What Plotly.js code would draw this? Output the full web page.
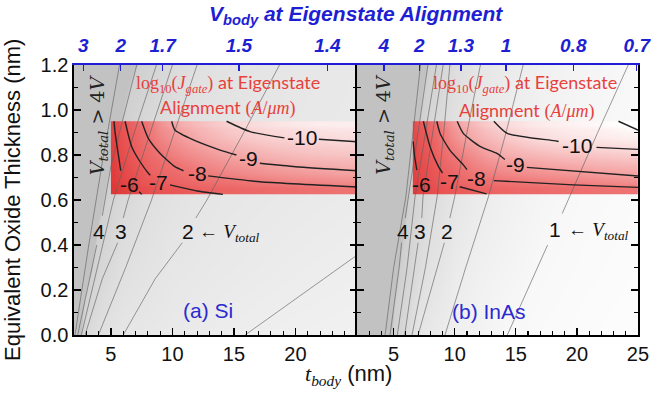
<!DOCTYPE html>
<html><head><meta charset="utf-8">
<script src="https://cdn.plot.ly/plotly-3.0.1.min.js"></script>
<style>html,body{margin:0;padding:0;background:#fff}#chart{width:657px;height:393px}</style>
</head><body><div id="chart"></div>
<script>
// ================= DATA =================
// V_total background grid (t_body columns, EOT rows)
const vGridT = [2,3,4,5,6,7,8,10,12,14,17,20,25];
const vGridEot = [0,0.3,0.6,0.9,1.2];
const siVtotal = [
 [5.5,2.95,2.5,2.25,2.0,1.95,1.9,1.8,1.7,1.6,1.48,1.42,1.35],
 [6,4.5,3.45,2.95,2.55,2.38,2.25,1.98,1.9,1.82,1.72,1.62,1.5],
 [7,5,4.25,3.6,3.15,2.85,2.58,2.3,2.08,1.97,1.88,1.8,1.68],
 [7,5.5,4.8,4.3,3.9,3.45,3.05,2.55,2.35,2.15,1.97,1.9,1.8],
 [7,6,5.5,4.8,4.3,4.02,3.75,3.0,2.5,2.35,2.15,1.97,1.85]];
const inasVtotal = [
 [8,6.5,5,3.8,2.9,2.0,1.82,1.4,1.25,1.03,0.9,0.82,0.72],
 [9,7,5.5,4.3,3.6,2.85,2.3,1.7,1.4,1.25,1.0,0.9,0.78],
 [9,7.5,6,4.8,4.1,3.3,2.8,2.0,1.62,1.4,1.15,0.97,0.85],
 [9,8,6.5,5.3,4.5,4.0,3.15,2.35,1.85,1.52,1.3,1.1,0.92],
 [9,8,7,5.8,4.9,4.4,3.9,2.7,2.05,1.75,1.4,1.22,1.0]];

// log10(J_gate) grids (bin edges)
const jEotEdges = [0.625,0.675,0.76,0.84,0.915,0.95];
const siJtEdges = [5.0,5.5,6.5,7.5,9,11,13.5,16.5,19.5,22.5,25];
const siLogJ = [
 [-5.4,-5.65,-6.0,-6.35,-6.7,-7.1,-7.35,-7.6,-7.75,-7.9],
 [-5.6,-6.0,-6.5,-7.1,-7.5,-8.05,-8.35,-8.6,-8.75,-8.9],
 [-5.75,-6.3,-7.0,-7.6,-8.2,-8.6,-9.0,-9.3,-9.5,-9.6],
 [-5.85,-6.5,-7.3,-8.05,-8.6,-9.15,-9.6,-9.9,-10.05,-10.15],
 [-5.95,-6.7,-7.5,-8.2,-8.95,-9.5,-9.95,-10.3,-10.5,-10.6]];
const inasJtEdges = [6.57,7.0,8.0,9.0,10.5,12.5,15,17.5,20.5,23,25];
const inasLogJ = [
 [-5.6,-5.95,-6.35,-6.75,-7.1,-7.3,-7.5,-7.65,-7.8,-7.9],
 [-5.8,-6.2,-6.75,-7.35,-8.05,-8.3,-8.5,-8.65,-8.8,-8.9],
 [-6.0,-6.5,-7.2,-8.0,-8.5,-9.05,-9.3,-9.5,-9.65,-9.75],
 [-6.2,-6.8,-7.6,-8.45,-9.1,-9.6,-10.05,-10.3,-10.45,-10.6],
 [-6.4,-7.0,-7.9,-8.7,-9.4,-10.05,-10.4,-10.65,-10.85,-11.05]];

// V_total contour lines (t_body, EOT); null = gap for a label
const siV45T = [2.08,3.2,4.4,5.7],            siV45E = [0,0.4,0.8,1.2];
const siV4T  = [2.3,3.85,null,4.3,5.0,7.1],    siV4E  = [0,0.40,null,0.53,0.75,1.2];
const siV35T = [2.6,3.9,5.2,6.9,8.7],          siV35E = [0,0.3,0.6,0.9,1.2];
const siV3T  = [2.9,4.3,5.55,null,6.0,6.4,8.2,10.0], siV3E = [0,0.25,0.41,null,0.52,0.6,0.9,1.2];
const siV25T = [3.98,6.2,8.3,10.15,12.0],      siV25E = [0,0.3,0.6,0.9,1.2];
const siV2T  = [6.0,8.6,10.8,null,11.9,12.8,15.8,18.7], siV2E = [0,0.25,0.41,null,0.52,0.6,0.9,1.2];
const siV15T = [15.9,25],                      siV15E = [0,0.355];

const inV45T = [4.3,5.0,6.0,7.2],              inV45E = [0,0.3,0.615,1.2];
const inV4T  = [4.7,5.45,5.65,null,5.95,6.2,7.0,7.8], inV4E = [0,0.3,0.41,null,0.52,0.615,0.9,1.2];
const inV35T = [5.3,6.1,6.75,7.6,8.5],         inV35E = [0,0.3,0.615,0.9,1.2];
const inV3T  = [5.9,6.75,7.0,null,7.3,7.4,8.2,9.05], inV3E = [0,0.3,0.41,null,0.52,0.615,0.9,1.2];
const inV25T = [6.5,7.6,8.56,9.1,9.6],         inV25E = [0,0.3,0.615,0.9,1.2];
const inV2T  = [7.0,8.6,9.15,null,9.6,10.0,11.0,12.1], inV2E = [0,0.3,0.41,null,0.52,0.615,0.9,1.2];
const inV15T = [9.2,10.9,12.76,14.2,15.6],     inV15E = [0,0.3,0.615,0.9,1.2];
const inV1T  = [14.3,17.6,null,18.8,21.7,24.2],inV1E  = [0,0.4,null,0.54,0.9,1.2];

// log10(J) contour lines
const siJ6T  = [5.25,5.33,5.8,null,7.3,7.5],   siJ6E  = [0.95,0.904,0.73,null,0.637,0.625];
const siJ7T  = [6.15,6.69,7.37,8.04,8.2,null,9.8,12,14.1], siJ7E = [0.95,0.837,0.77,0.719,0.71,null,0.667,0.64,0.625];
const siJ8T  = [7.5,8.04,9.0,10.2,10.9,null,12.9,17.1,25], siJ8E = [0.95,0.874,0.807,0.748,0.73,null,0.707,0.681,0.658];
const siJ9T  = [9.94,10.2,11.7,13.87,15.2,null,17.1,20,25], siJ9E = [0.95,0.911,0.867,0.822,0.80,null,0.763,0.748,0.73];
const siJ10T = [14.4,16.3,19.1,null,21.9,25],  siJ10E = [0.95,0.904,0.876,null,0.87,0.859];

const inJ6T  = [6.6,6.7,6.9],                  inJ6E  = [0.86,0.80,0.733];
const inJ7T  = [7.43,7.98,8.67,9.0,null,10.4,12.6], inJ7E = [0.95,0.837,0.748,0.72,null,0.659,0.627];
const inJ8T  = [8.53,8.8,9.6,10.7,11.0,null,13.2,19.7,25], inJ8E = [0.95,0.896,0.822,0.756,0.735,null,0.686,0.667,0.656];
const inJ9T  = [10.2,10.7,12.1,13.45,14.1,null,15.9,25], inJ9E = [0.95,0.896,0.837,0.807,0.78,null,0.745,0.707];
const inJ10T = [13.2,14.3,18.1,18.5,null,21.6,25], inJ10E = [0.95,0.896,0.864,0.86,null,0.834,0.825];
const inJ11T = [23.4,25],                      inJ11E = [0.95,0.911];

// contour labels
const siJLabels = ['-6','-7','-8','-9','-10'];
const siJLabT = [6.55,8.85,12.0,16.2,20.5], siJLabE = [0.667,0.68,0.719,0.785,0.878];
const inJLabels = ['-6','-7','-8','-9','-10'];
const inJLabT = [7.3,9.6,11.8,14.95,20.0], inJLabE = [0.667,0.681,0.696,0.756,0.844];
const siVLabels = ['4','3','2'], siVLabT = [4.03,5.82,11.3], siVLabE = [0.46,0.46,0.46];
const inVLabels = ['4','3','2','1'], inVLabT = [5.8,7.16,9.35,18.2], inVLabE = [0.46,0.46,0.46,0.467];

// top axis (V_body at eigenstate alignment)
const siTopTickT = [2.76,5.8,9.2,15.4,22.6], siTopTickText = ['3','2','1.7','1.5','1.4'];
const inTopTickT = [4.2,7.1,10.5,14.2,19.7,24.9], inTopTickText = ['4','2','1.3','1','0.8','0.7'];
const bottomTicksSi = [5,10,15,20], bottomTicksInAs = [5,10,15,20,25];

// ================= FIGURE =================
const BLUE = '#1e1ed2', RED = '#e8413c';
const SANS = 'Arial, "Liberation Sans", sans-serif';
const SERIF = '"DejaVu Serif", "Liberation Serif", serif';

const grayScale = [[0,'#fdfdfd'],[0.09,'#f8f8f8'],[0.24,'#eeeeee'],[0.39,'#e6e6e6'],[0.69,'#dadada'],[0.97,'#d0d0d0'],[1,'#c2c2c2']];
const redScale = [[0,'#ffffff'],[0.175,'#fad6d6'],[0.35,'#f5a3a3'],[0.526,'#ef6f6f'],[0.70,'#eb5656'],[0.877,'#e64040'],[1,'#e02c2c']];

function bg(z, xa, ya){ return {type:'heatmap', x:vGridT, y:vGridEot, z:z, zmin:0.7, zmax:4.05, colorscale:grayScale, zsmooth:'best', showscale:false, hoverinfo:'skip', xaxis:xa, yaxis:ya}; }
function jmap(xe, z, xa, ya){ return {type:'heatmap', x:xe, y:jEotEdges, z:z, zmin:-11, zmax:-5.3, colorscale:redScale, zsmooth:'best', showscale:false, hoverinfo:'skip', opacity:0.95, xaxis:xa, yaxis:ya}; }
function vline(x, y, xa, ya){ return {type:'scatter', mode:'lines', x:x, y:y, line:{color:'rgba(95,95,95,0.7)', width:0.9}, connectgaps:false, hoverinfo:'skip', showlegend:false, xaxis:xa, yaxis:ya}; }
function jline(x, y, xa, ya){ return {type:'scatter', mode:'lines', x:x, y:y, line:{color:'#222', width:1.4, shape:'spline', smoothing:0.6}, connectgaps:false, hoverinfo:'skip', showlegend:false, xaxis:xa, yaxis:ya}; }

const data = [
  bg(siVtotal,'x','y'), bg(inasVtotal,'x2','y2'),
  jmap(siJtEdges, siLogJ, 'x','y'), jmap(inasJtEdges, inasLogJ, 'x2','y2'),
  vline(siV45T,siV45E,'x','y'), vline(siV4T,siV4E,'x','y'), vline(siV35T,siV35E,'x','y'),
  vline(siV3T,siV3E,'x','y'), vline(siV25T,siV25E,'x','y'), vline(siV2T,siV2E,'x','y'), vline(siV15T,siV15E,'x','y'),
  vline(inV45T,inV45E,'x2','y2'), vline(inV4T,inV4E,'x2','y2'), vline(inV35T,inV35E,'x2','y2'),
  vline(inV3T,inV3E,'x2','y2'), vline(inV25T,inV25E,'x2','y2'), vline(inV2T,inV2E,'x2','y2'),
  vline(inV15T,inV15E,'x2','y2'), vline(inV1T,inV1E,'x2','y2'),
  jline(siJ6T,siJ6E,'x','y'), jline(siJ7T,siJ7E,'x','y'), jline(siJ8T,siJ8E,'x','y'), jline(siJ9T,siJ9E,'x','y'), jline(siJ10T,siJ10E,'x','y'),
  jline(inJ6T,inJ6E,'x2','y2'), jline(inJ7T,inJ7E,'x2','y2'), jline(inJ8T,inJ8E,'x2','y2'), jline(inJ9T,inJ9E,'x2','y2'), jline(inJ10T,inJ10E,'x2','y2'), jline(inJ11T,inJ11E,'x2','y2'),
  {type:'scatter', x:[], y:[], xaxis:'x3', yaxis:'y', showlegend:false, hoverinfo:'skip'},
  {type:'scatter', x:[], y:[], xaxis:'x4', yaxis:'y2', showlegend:false, hoverinfo:'skip'}
];

const split = 0.5018;
const tickFont = {family:SANS, size:20, color:'#111'};
const topFont = {family:SANS, size:19, color:BLUE, weight:'bold', style:'italic'};
function bottomAxis(dom, anchor, vals){
  return {domain:dom, anchor:anchor, range:[2,25], tickmode:'array', tickvals:vals, ticks:'inside', ticklen:7, tickwidth:1.3, tickcolor:'#000',
    showline:true, linecolor:'#000', linewidth:1.6, showgrid:false, zeroline:false, tickfont:tickFont,
    minor:{tickmode:'linear', tick0:0, dtick:1, ticks:'inside', ticklen:4, tickwidth:1.1, tickcolor:'#000'}};
}
function topAxis(over, anchor, vals, text){
  return {overlaying:over, anchor:anchor, side:'top', range:[2,25], tickmode:'array', tickvals:vals, ticktext:text, ticks:'inside', ticklen:6, tickwidth:1.3,
    tickcolor:BLUE, showline:true, linecolor:BLUE, linewidth:1.8, showgrid:false, zeroline:false, tickfont:topFont, ticklabelstandoff:4};
}
function yAx(anchor, labels){
  return {anchor:anchor, range:[0,1.2], dtick:0.2, tick0:0, tickformat:'.1f', ticks:'inside', ticklen:7, tickwidth:1.3, tickcolor:'#000',
    showline:true, linecolor:'#000', linewidth:1.6, mirror:'ticks', showgrid:false, zeroline:false, showticklabels:labels, tickfont:tickFont,
    minor:{dtick:0.1, tick0:0, ticks:'inside', ticklen:4, tickwidth:1.1, tickcolor:'#000'}};
}

const ann = [];
function lab(text, x, y, xr, yr, font, extra){ ann.push(Object.assign({text:text, x:x, y:y, xref:xr, yref:yr, showarrow:false, font:font, xanchor:'center', yanchor:'middle'}, extra||{})); }
const cf = {family:SANS, size:21, color:'#111'};
siJLabels.forEach((t,i)=>lab(t, siJLabT[i], siJLabE[i], 'x','y', cf));
inJLabels.forEach((t,i)=>lab(t, inJLabT[i], inJLabE[i], 'x2','y2', cf));
siVLabels.forEach((t,i)=>lab(t, siVLabT[i], siVLabE[i], 'x','y', cf));
inVLabels.forEach((t,i)=>lab(t, inVLabT[i], inVLabE[i], 'x2','y2', cf));
const vtot = '<span style="font-family:\'Liberation Serif\'"><i>V</i><sub><i>total</i></sub></span>';
lab('<b>←</b> ' + vtot, 12.0, 0.455, 'x','y', {family:SANS, size:19, color:'#111'}, {xanchor:'left'});
lab('<b>←</b> ' + vtot, 19.1, 0.462, 'x2','y2', {family:SANS, size:19, color:'#111'}, {xanchor:'left'});
const gt4 = '<i>V</i><sub><i>total</i></sub> > 4<i>V</i>';
lab(gt4, 4.0, 0.935, 'x','y', {family:SERIF, size:19, color:'#222'}, {textangle:-90});
lab(gt4, 4.3, 0.935, 'x2','y2', {family:SERIF, size:19, color:'#222'}, {textangle:-90});
const jt1 = '<span style="font-family:\'Liberation Serif\'">log<sub>10</sub>(<i>J</i><sub><i>gate</i></sub>)</span> at Eigenstate';
const jt2 = 'Alignment <span style="font-family:\'Liberation Serif\'">(<i>A</i>/<i>μm</i>)</span>';
const rf = {family:'Lato, "Open Sans", sans-serif', size:18, color:RED};
lab(jt1, 14.48, 1.12, 'x','y', rf); lab(jt2, 14.48, 1.009, 'x','y', rf);
lab(jt1, 15.77, 1.116, 'x2','y2', rf); lab(jt2, 15.85, 1.0, 'x2','y2', rf);
lab('(a) Si', 12.85, 0.111, 'x','y', {family:SANS, size:21, color:'#2a2ad0'});
lab('(b) InAs', 12.8, 0.105, 'x2','y2', {family:SANS, size:21, color:'#2a2ad0'});
lab('<i>V</i><sub><i>body</i></sub> at Eigenstate Alignment', 0.5, 1.185, 'paper','paper', {family:SANS, size:21, color:BLUE, weight:'bold', style:'italic'});
lab('<span style="font-family:\'Liberation Serif\'"><i>t</i><sub><i>body</i></sub></span> (nm)', 0.487, -0.148, 'paper','paper', {family:SANS, size:22, color:'#111'});
lab('Equivalent Oxide Thickness (nm)', -0.11, 0.5, 'paper','paper', {family:SANS, size:22, color:'#111'}, {textangle:-90});

const layout = {
  width:657, height:393, margin:{l:74, r:19, t:65, b:58}, paper_bgcolor:'#fff', plot_bgcolor:'#fff', showlegend:false,
  font:{family:SANS, color:'#111'},
  xaxis: bottomAxis([0,split],'y',bottomTicksSi),
  xaxis2: bottomAxis([split,1],'y2',bottomTicksInAs),
  xaxis3: topAxis('x','y',siTopTickT,siTopTickText),
  xaxis4: topAxis('x2','y2',inTopTickT,inTopTickText),
  yaxis: yAx('x', true),
  yaxis2: Object.assign(yAx('x2', false), {matches:'y'}),
  annotations: ann
};
Plotly.newPlot('chart', data, layout, {staticPlot:true, displayModeBar:false});
</script></body></html>
